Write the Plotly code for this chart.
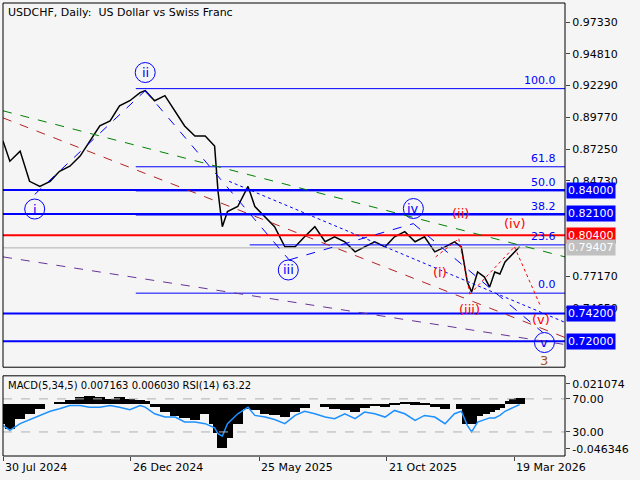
import pandas as pd
import plotly.graph_objects as go

# bar positions as days after 30 Jul 2024
day_off = [0, 8, 20, 31, 43, 55, 66, 78, 90, 101, 113, 125, 136, 148, 160, 166, 177, 189, 201, 212,
           224, 236, 247, 251, 256, 262, 274, 286, 294, 306, 317, 329, 341, 352, 364, 376, 387, 399,
           411, 422, 434, 446, 457, 469, 481, 492, 504, 516, 527, 535, 542, 547, 554, 562, 568, 574,
           580, 586, 592, 597, 603]
close = [0.8789, 0.8629, 0.8709, 0.8469, 0.8429, 0.8469, 0.8549, 0.8589, 0.8669, 0.8789, 0.8909,
         0.8949, 0.9069, 0.9109, 0.9173, 0.9189, 0.9109, 0.9149, 0.9029, 0.8909, 0.8829, 0.8829,
         0.8749, 0.8389, 0.8109, 0.8229, 0.8269, 0.8429, 0.8269, 0.8189, 0.8109, 0.7949, 0.7949,
         0.8029, 0.8109, 0.7989, 0.8029, 0.7989, 0.7909, 0.7949, 0.7989, 0.7949, 0.8029, 0.8069,
         0.7989, 0.8029, 0.7909, 0.7949, 0.7989, 0.7949, 0.7669, 0.7589, 0.7749, 0.7709, 0.7629,
         0.7749, 0.7733, 0.7829, 0.7869, 0.7909, 0.7949]
macd_hist = [-0.02, -0.025, -0.015, -0.01, -0.005, 0.0, 0.003, 0.005, 0.008, 0.009, 0.008, 0.006,
             0.008, 0.006, 0.005, 0.004, -0.003, -0.008, -0.012, -0.014, -0.016, -0.010, -0.02,
             -0.03, -0.045, -0.035, -0.02, -0.005, -0.006, -0.01, -0.011, -0.013, -0.008, -0.004,
             0.0, -0.003, -0.005, -0.006, -0.008, -0.004, -0.002, -0.003, 0.001, 0.003, 0.002,
             0.001, -0.003, -0.005, 0.0, -0.005, -0.02, -0.02, -0.012, -0.01, -0.008, -0.006,
             -0.004, 0.0, 0.004, 0.006, 0.007]
rsi = [38, 32, 40, 45, 50, 55, 58, 62, 62, 60, 60, 62, 60, 57, 62, 60, 52, 48, 48, 42, 42, 40, 35,
       28, 25, 40, 52, 60, 50, 48, 45, 40, 50, 55, 52, 48, 46, 52, 46, 54, 52, 48, 56, 52, 44, 50,
       48, 40, 52, 55, 38, 30, 42, 45, 47, 47, 50, 55, 58, 60, 63]

price_ticks = [0.97330, 0.94810, 0.92290, 0.89770, 0.87250, 0.84730, 0.77170, 0.74650]
levels = [(0.84000, "blue"), (0.82100, "blue"), (0.80400, "red"), (0.74200, "blue"), (0.72000, "blue")]
last_price = 0.79407
fib_lo, fib_hi = 0.7581, 0.9205
fib_ratios = [0.0, 0.236, 0.382, 0.5, 0.618, 1.0]

# trendlines: (day_from, price_from, day_to, price_to, colour, dash)
trend = [
    (0, 0.9029, 656, 0.7869, "green", "dash"),
    (0, 0.8973, 656, 0.7229, "#b22222", "dash"),
    (0, 0.7869, 656, 0.7173, "#663399", "dash"),
    (37, 0.8365, 166, 0.9189, "blue", "dash"),
    (166, 0.9189, 334, 0.7845, "blue", "dash"),
    (264, 0.8469, 656, 0.7349, "blue", "dot"),
    (334, 0.7845, 479, 0.8133, "blue", "dash"),
    (479, 0.8133, 630, 0.7269, "blue", "dash"),
    (505, 0.7869, 532, 0.8013, "red", "dot"),
    (532, 0.8013, 545, 0.7573, "red", "dot"),
    (545, 0.7573, 597, 0.7949, "red", "dot"),
    (597, 0.7949, 628, 0.7469, "red", "dot"),
]
big_waves = [("i", 37, 0.8249), ("ii", 166, 0.9333), ("iii", 333, 0.7765), ("iv", 479, 0.8253), ("v", 632, 0.7189)]
small_waves = [("(i)", 510, 0.7749), ("(ii)", 534, 0.8213), ("(iii)", 545, 0.7453), ("(iv)", 597, 0.8133), ("(v)", 628, 0.7373)]

tick_days = [0, 149, 299, 448, 597]
tick_text = ["30 Jul 2024", "26 Dec 2024", "25 May 2025", "21 Oct 2025", "19 Mar 2026"]

start = pd.Timestamp("2024-07-30")
d = lambda off: start + pd.Timedelta(days=off)
dates = [d(o) for o in day_off]
x_end = d(656)

fig = go.Figure()
fig.add_trace(go.Scatter(x=dates, y=close, mode="lines", line=dict(color="black", width=1.5),
                         xaxis="x", yaxis="y"))
fig.add_trace(go.Bar(x=dates, y=macd_hist, marker_color="black", marker_line_width=0,
                     width=12 * 86400000, xaxis="x2", yaxis="y2"))
fig.add_trace(go.Scatter(x=dates, y=rsi, mode="lines", line=dict(color="#1e90ff", width=1.5),
                         xaxis="x2", yaxis="y3"))

shapes = []
for p, c in levels:
    shapes.append(dict(type="line", xref="x", yref="y", x0=start, x1=x_end, y0=p, y1=p,
                       line=dict(color=c, width=2)))
shapes.append(dict(type="line", xref="x", yref="y", x0=start, x1=x_end, y0=last_price, y1=last_price,
                   line=dict(color="#b0b0b0", width=1)))
for r in fib_ratios:
    p = fib_lo + r * (fib_hi - fib_lo)
    shapes.append(dict(type="line", xref="x", yref="y", x0=d(155 if r != 0.236 else 288), x1=x_end,
                       y0=p, y1=p, line=dict(color="blue", width=1)))
for a, pa, b, pb, c, ds in trend:
    shapes.append(dict(type="line", xref="x", yref="y", x0=d(a), y0=pa, x1=d(b), y1=pb,
                       line=dict(color=c, width=1, dash=ds)))
for v in (70, 30):
    shapes.append(dict(type="line", xref="x2", yref="y3", x0=start, x1=x_end, y0=v, y1=v,
                       line=dict(color="#b0b0b0", width=1, dash="dash")))
shapes.append(dict(type="rect", xref="paper", yref="paper", x0=0, x1=1, y0=0.196, y1=1,
                   line=dict(color="black", width=1)))
shapes.append(dict(type="rect", xref="paper", yref="paper", x0=0, x1=1, y0=0, y1=0.177,
                   line=dict(color="black", width=1)))

ann = [dict(text="USDCHF, Daily:  US Dollar vs Swiss Franc", xref="paper", yref="paper", x=0.005, y=0.998,
            xanchor="left", yanchor="top", showarrow=False, font=dict(size=11, color="black")),
       dict(text="MACD(5,34,5) 0.007163 0.006030 RSI(14) 63.22", xref="paper", yref="paper", x=0.005,
            y=0.172, xanchor="left", yanchor="top", showarrow=False, font=dict(size=10, color="black"))]
for p, c in levels + [(last_price, "#c0c0c0")]:
    ann.append(dict(text=f"{p:.5f}", xref="paper", yref="y", x=1, y=p, xanchor="left", xshift=1,
                    showarrow=False, bgcolor=c, font=dict(color="white", size=11), borderpad=1))
for r in fib_ratios:
    p = fib_lo + r * (fib_hi - fib_lo)
    ann.append(dict(text=f"{r * 100:.1f}", xref="x", yref="y", x=d(648), y=p, xanchor="right",
                    yanchor="bottom", showarrow=False, font=dict(color="blue", size=11)))
for t, o, p in big_waves:
    ann.append(dict(text=t, x=d(o), y=p, xref="x", yref="y", showarrow=False,
                    font=dict(color="blue", size=13)))
for t, o, p in small_waves:
    ann.append(dict(text=t, x=d(o), y=p, xref="x", yref="y", showarrow=False,
                    font=dict(color="red", size=13)))
ann.append(dict(text="3", x=d(632), y=0.7045, xref="x", yref="y", showarrow=False,
                font=dict(color="#a0522d", size=13)))
for o, t in zip(tick_days, tick_text):
    ann.append(dict(text=t, x=d(o), y=0, xref="x2", yref="paper", yanchor="top", xanchor="left",
                    yshift=-3, showarrow=False, font=dict(size=11, color="black")))
fig.add_trace(go.Scatter(x=[d(o) for _, o, _ in big_waves], y=[p for _, _, p in big_waves], mode="markers",
                         marker=dict(symbol="circle-open", size=20, color="blue", line=dict(width=1)),
                         xaxis="x", yaxis="y"))

fig.update_layout(
    width=640, height=480, margin=dict(l=3, r=75, t=3, b=24, autoexpand=False),
    paper_bgcolor="#f5f5f5", plot_bgcolor="#f5f5f5", showlegend=False,
    font=dict(family="DejaVu Sans", size=11, color="black"),
    shapes=shapes, annotations=ann, bargap=0,
    xaxis=dict(range=[start, x_end], domain=[0, 1], anchor="y", showticklabels=False,
               showgrid=False, zeroline=False),
    xaxis2=dict(range=[start, x_end], domain=[0, 1], anchor="y2", showgrid=False, zeroline=False,
                tickvals=[d(o) for o in tick_days], showticklabels=False, ticks="outside", ticklen=4),
    yaxis=dict(domain=[0.196, 1], range=[0.6993, 0.9885], side="right", tickvals=price_ticks,
               ticktext=[f"{v:.5f}" for v in price_ticks], ticks="outside", ticklen=4,
               showgrid=False, zeroline=False),
    yaxis2=dict(domain=[0, 0.177], range=[-0.0536, 0.0294], side="right", tickvals=[0.021074, -0.046346],
                ticktext=["0.021074", "-0.046346"], ticks="outside", ticklen=4, showgrid=False,
                zeroline=False),
    yaxis3=dict(overlaying="y2", range=[0.9, 97.9], side="right", tickvals=[70, 30],
                ticktext=["70.00", "30.00"], ticks="outside", ticklen=4, showgrid=False, zeroline=False),
)
fig.write_html("out.html", config={"displayModeBar": False},
               post_script="document.body.style.margin='0';document.body.style.background='#f5f5f5';")
